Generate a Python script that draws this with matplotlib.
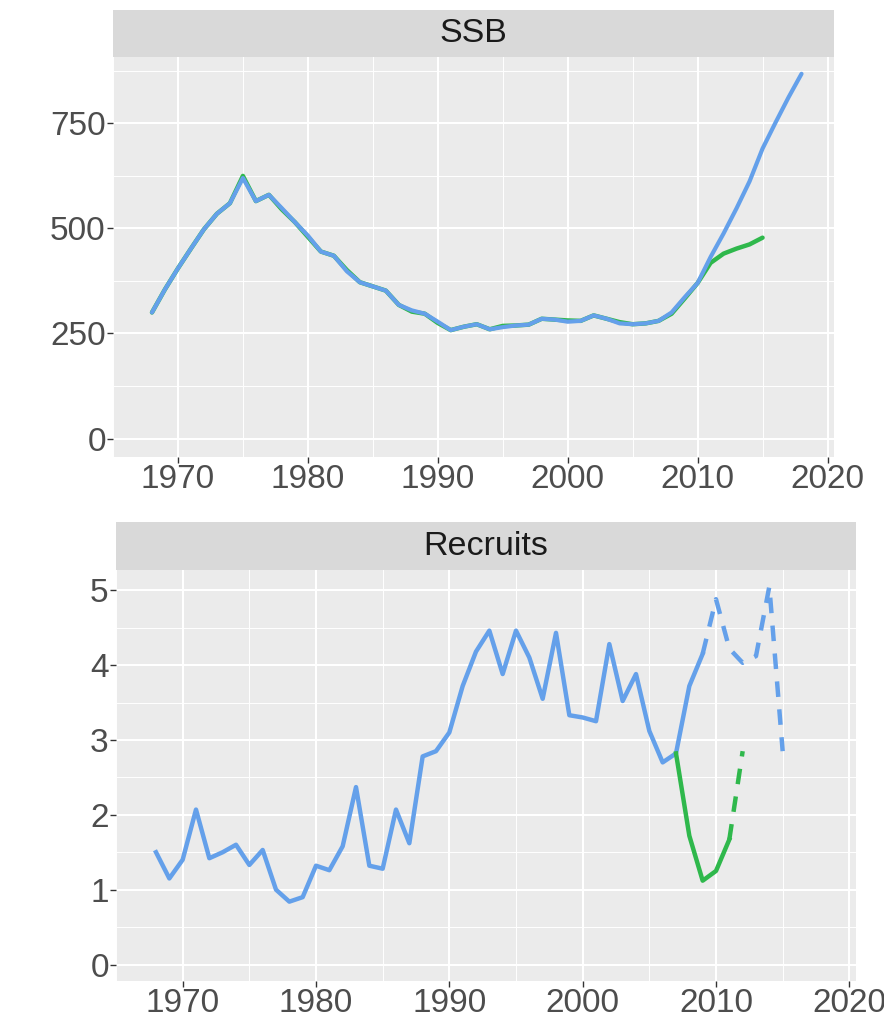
import matplotlib
matplotlib.use('Agg')
import matplotlib.pyplot as plt
import numpy as np

plt.rcParams['font.family'] = ['Liberation Sans', 'DejaVu Sans']

# SSB, two runs (blue = full, green = retrospective)
ssb_years = list(range(1968, 2019))
ssb_blue = [300, 355, 405, 452, 498, 535, 560, 620, 565, 580,
            548, 515, 483, 445, 435, 398, 372, 362, 352, 318,
            305, 297, 278, 258, 266, 272, 260, 265, 269, 271,
            285, 283, 278, 280, 293, 285, 274, 272, 274, 280,
            300, 336, 370, 432, 488, 548, 612, 690, 752, 812, 868]
ssb_green_years = list(range(1968, 2016))
ssb_green = [300, 355, 405, 452, 498, 535, 560, 625, 565, 580,
             545, 515, 480, 445, 435, 401, 372, 362, 352, 318,
             302, 297, 275, 258, 266, 272, 260, 268, 269, 271,
             285, 283, 281, 280, 293, 285, 277, 272, 274, 280,
             297, 333, 370, 418, 440, 452, 462, 478]

# Recruits
rec_years = list(range(1968, 2010))
rec_blue = [1.50, 1.15, 1.40, 2.07, 1.42, 1.50, 1.60, 1.33, 1.53, 1.00,
            0.84, 0.90, 1.32, 1.26, 1.58, 2.37, 1.32, 1.28, 2.07, 1.62,
            2.78, 2.85, 3.10, 3.72, 4.18, 4.46, 3.88, 4.46, 4.10, 3.55,
            4.43, 3.33, 3.30, 3.25, 4.28, 3.52, 3.88, 3.12, 2.70, 2.82,
            3.72, 4.15]
rec_blue_dash_years = list(range(2009, 2016))
rec_blue_dash = [4.15, 4.88, 4.22, 4.03, 4.12, 5.05, 2.85]
rec_green_years = list(range(2007, 2012))
rec_green = [2.82, 1.72, 1.12, 1.25, 1.67]
rec_green_dash_years = [2011, 2012]
rec_green_dash = [1.67, 2.85]

blue = '#64a0ea'
green = '#2fb84c'
W, H = 884, 1022


def box(x0, y0, x1, y1):
    return [x0 / W, 1 - y1 / H, (x1 - x0) / W, (y1 - y0) / H]


def style_panel(ax, yticks, yminor):
    ax.set_facecolor('#ebebeb')
    for s in ax.spines.values():
        s.set_visible(False)
    ax.set_xlim(1965.5, 2020.5)
    ax.set_xticks([1970, 1980, 1990, 2000, 2010, 2020])
    ax.set_xticks([1965, 1975, 1985, 1995, 2005, 2015], minor=True)
    ax.set_yticks(yticks)
    ax.set_yticks(yminor, minor=True)
    ax.grid(which='major', color='white', lw=1.5)
    ax.grid(which='minor', color='white', lw=0.7)
    ax.set_axisbelow(True)
    ax.tick_params(which='major', length=4, width=1, color='#333333',
                   labelsize=24, labelcolor='#4d4d4d', pad=1.2)
    ax.tick_params(which='minor', length=0)


def strip(rect, label):
    s = fig.add_axes(rect)
    s.set_facecolor('#d9d9d9')
    for sp in s.spines.values():
        sp.set_visible(False)
    s.set_xticks([])
    s.set_yticks([])
    s.text(0.5, 0.5, label, ha='center', va='center', fontsize=24.5,
           color='#1a1a1a', transform=s.transAxes)


fig = plt.figure(figsize=(8.84, 10.22), dpi=100)

ax1 = fig.add_axes(box(113, 57, 834, 457))
style_panel(ax1, [0, 250, 500, 750], [125, 375, 625, 875])
ax1.set_ylim(-44, 908)
ax1.plot(ssb_green_years, ssb_green, color=green, lw=3.2, solid_capstyle='round')
ax1.plot(ssb_years, ssb_blue, color=blue, lw=3.0, solid_capstyle='round')
strip(box(113, 10, 834, 57), 'SSB')

ax2 = fig.add_axes(box(116, 570, 856, 981))
style_panel(ax2, [0, 1, 2, 3, 4, 5], [0.5, 1.5, 2.5, 3.5, 4.5])
ax2.set_ylim(-0.22, 5.27)
ax2.plot(rec_years, rec_blue, color=blue, lw=3.2)
ax2.plot(rec_blue_dash_years, rec_blue_dash, color=blue, lw=3.2,
         dashes=(3.5, 2.8))
ax2.plot(rec_green_years, rec_green, color=green, lw=3.2)
ax2.plot(rec_green_dash_years, rec_green_dash, color=green, lw=3.2,
         dashes=(3.5, 2.8))
strip(box(116, 522, 856, 570), 'Recruits')

fig.savefig('out.png', dpi=100, facecolor='white')
